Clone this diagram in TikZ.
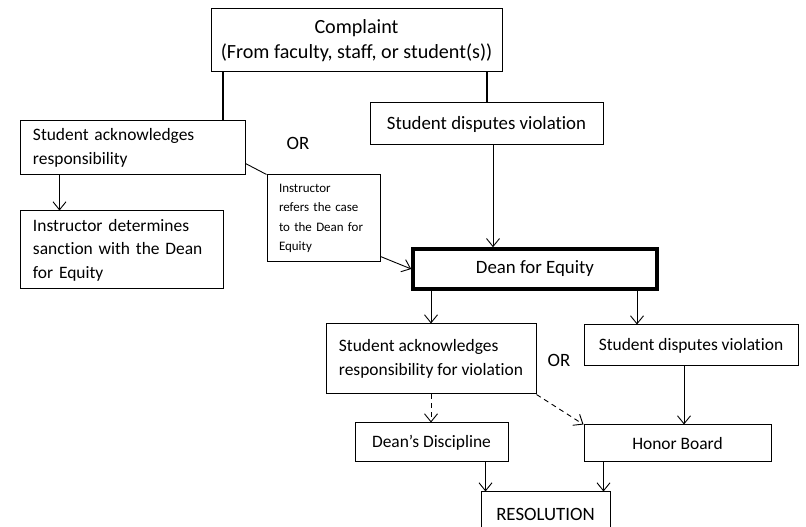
\documentclass[tikz,border=0pt]{standalone}
\usepackage{fontspec}
\setmainfont{Carlito}[Ligatures=NoCommon]
\usetikzlibrary{arrows.meta}

\begin{document}
\begin{tikzpicture}[x=1bp,y=1bp,
		every node/.style={font=\fontsize{17.5}{23.5}\selectfont},
		box/.style={draw,line width=1bp,inner sep=0pt},
		lbox/.style={draw,line width=1bp,align=left,inner xsep=12bp,inner ysep=0pt},
		small/.style={font=\fontsize{13}{19.3}\selectfont},
		large/.style={font=\fontsize{18.9}{23.5}\selectfont},
		huge/.style={font=\fontsize{20.2}{24.5}\selectfont},
		link/.style={line width=0.9bp,-{Straight Barb[length=8bp,width=13bp]}},
		stem/.style={line width=2bp}]

		\useasboundingbox (0,0) rectangle (806,527);

		\node[box,huge,minimum width=291bp,minimum height=63bp,align=center] (complaint) at (356.5,486.5) {Complaint\\(From faculty, staff, or student(s))};
		\node[lbox,text width=200bp,minimum height=54bp] (ackL) at (133,379) {Student acknowledges\\responsibility};
		\node[box,large,minimum width=233bp,minimum height=42bp] (disputeT) at (486.5,403) {Student disputes violation};
		\node[large] (or1) at (298,384) {OR};
		\node[lbox,small,text width=89bp,minimum height=87bp] (refer) at (323.5,308.5) {Instructor\\refers the case\\to the Dean for\\Equity};
		\node[lbox,text width=178bp,minimum height=78bp] (sanction) at (122,277) {Instructor determines\\sanction with the Dean\\for Equity};
		\node[box,large,line width=3.5bp,minimum width=244bp,minimum height=40bp] (dean) at (535,258) {Dean for Equity};
		\node[box,align=left,minimum width=210bp,minimum height=70bp] (ackR) at (431,168) {Student acknowledges\\responsibility for violation};
		\node[box,minimum width=214bp,minimum height=41bp] (disputeR) at (691,181.5) {Student disputes violation};
		\node[large] (or2) at (559,167) {OR};
		\node[box,minimum width=153bp,minimum height=39bp] (deansD) at (431.5,84.5) {Dean’s Discipline};
		\node[box,minimum width=187bp,minimum height=37bp] (honor) at (677.5,83.5) {Honor Board};
		\node[box,large,minimum width=129bp,minimum height=44bp] (resol) at (545.5,13) {RESOLUTION};

		\coordinate (c1) at ([xshift=12bp]complaint.south west);
		\coordinate (c2) at ([xshift=-16bp]complaint.south east);
		\coordinate (a1) at ([xshift=39bp]ackL.south west);
		\coordinate (a2) at ([xshift=6.5bp]disputeT.south);
		\coordinate (a3) at ([xshift=-54bp]disputeR.north);
		\coordinate (a4) at ([xshift=-7bp]disputeR.south);
		\coordinate (a5) at ([xshift=5bp]resol.north west);
		\coordinate (a6) at ([xshift=-7bp]resol.north east);

		\draw[stem] (c1) -- (c1 |- ackL.north);
		\draw[stem] (c2) -- (c2 |- disputeT.north);
		\draw[line width=0.9bp] ([yshift=12bp]ackL.south east) -- (refer.north west);
		\draw[link] (a1) -- (a1 |- sanction.north);
		\draw[link] (a2) -- (a2 |- dean.north);
		\draw[link] ([yshift=6bp]refer.south east) -- (dean.west);
		\draw[link] (dean.south -| ackR.north) -- (ackR.north);
		\draw[link] (a3 |- dean.south) -- (a3);
		\draw[link] (a4) -- (a4 |- honor.north);
		\draw[link,dash pattern=on 5bp off 4bp] (ackR.south) -- (ackR.south |- deansD.north);
		\draw[link,dash pattern=on 5bp off 4bp] (ackR.south east) -- (honor.north west);
		\draw[link] (a5 |- deansD.south) -- (a5);
		\draw[link] (a6 |- honor.south) -- (a6);

	\end{tikzpicture}
\end{document}
